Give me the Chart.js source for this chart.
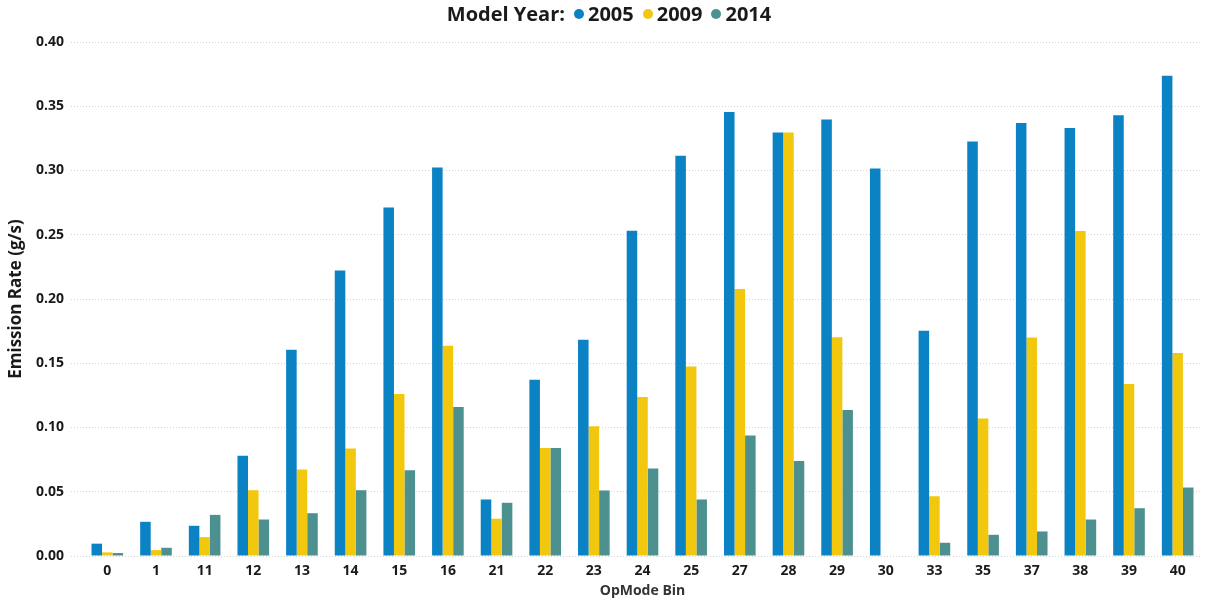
<!DOCTYPE html>
<html>
<head>
<meta charset="utf-8">
<title>Emission Rate by OpMode Bin</title>
<script src="https://cdn.jsdelivr.net/npm/chart.js@4/dist/chart.umd.min.js"></script>
<style>
  html, body { margin: 0; padding: 0; background: #fff; }
  #wrap { position: relative; width: 1206px; height: 600px; }
  #legend {
    position: absolute; top: 0; left: 0; width: 1206px;
    display: flex; justify-content: center; align-items: center;
    font-family: "Open Sans", "Noto Sans", sans-serif; font-weight: bold;
    font-size: 20px; color: #1a1a1a; padding-left: 12px; box-sizing: border-box;
  }
  #legend .item { display: flex; align-items: center; margin-left: 9px; }
  #legend .dot { width: 10px; height: 10px; border-radius: 50%; margin-right: 4px; }
</style>
</head>
<body>
<div id="wrap">
  <canvas id="chart" width="1206" height="600"></canvas>
  <div id="legend"><span>Model Year:</span></div>
</div>
<script>
const opModeBins = ['0', '1', '11', '12', '13', '14', '15', '16', '21', '22', '23', '24',
                    '25', '27', '28', '29', '30', '33', '35', '37', '38', '39', '40'];

const rate2005 = [0.0096, 0.0266, 0.0235, 0.0781, 0.1605, 0.2221, 0.2713, 0.3024, 0.0440, 0.1372, 0.1682, 0.2531,
                  0.3114, 0.3455, 0.3296, 0.3397, 0.3016, 0.1752, 0.3226, 0.3370, 0.3331, 0.3430, 0.3738];
const rate2009 = [0.0028, 0.0046, 0.0147, 0.0512, 0.0673, 0.0836, 0.1260, 0.1636, 0.0290, 0.0841, 0.1009, 0.1237,
                  0.1475, 0.2078, 0.3296, 0.1703, null, 0.0465, 0.1071, 0.1700, 0.2529, 0.1338, 0.1579];
const rate2014 = [0.0023, 0.0064, 0.0320, 0.0284, 0.0333, 0.0512, 0.0667, 0.1160, 0.0414, 0.0841, 0.0510, 0.0680,
                  0.0440, 0.0937, 0.0740, 0.1136, null, 0.0103, 0.0165, 0.0191, 0.0284, 0.0372, 0.0533];

const modelYears = ['2005', '2009', '2014'];
const yearColors = ['#0A82C4', '#F2C80F', '#4C918F'];

const fontFamily = '"Open Sans", "Noto Sans", sans-serif';

// html legend with the "Model Year:" caption inline
const legendEl = document.getElementById('legend');
modelYears.forEach((year, i) => {
    const item = document.createElement('span');
    item.className = 'item';
    item.innerHTML = `<span class="dot" style="background:${yearColors[i]}"></span>${year}`;
    legendEl.appendChild(item);
});

const ctx = document.getElementById('chart').getContext('2d');
new Chart(ctx, {
    type: 'bar',
    data: {
        labels: opModeBins,
        datasets: [rate2005, rate2009, rate2014].map((values, i) => ({
            label: modelYears[i],
            data: values,
            backgroundColor: yearColors[i],
            borderWidth: 0,
            categoryPercentage: 0.65,
            barPercentage: 1.0
        }))
    },
    options: {
        responsive: false,
        animation: false,
        layout: { padding: { top: 42, right: 4, left: 0, bottom: 0 } },
        plugins: {
            legend: { display: false },
            tooltip: { enabled: false }
        },
        scales: {
            x: {
                grid: { display: false, drawTicks: false },
                border: { display: false },
                ticks: {
                    padding: 7,
                    color: '#1a1a1a',
                    font: { family: fontFamily, size: 14, weight: 'bold' }
                },
                title: {
                    display: true,
                    text: 'OpMode Bin',
                    color: '#333',
                    padding: { top: 0, bottom: 1 },
                    font: { family: fontFamily, size: 14, weight: 'bold' }
                },
                afterFit: scale => { scale.height = 44; }
            },
            y: {
                min: 0,
                max: 0.4,
                grid: {
                    color: '#d4d4d4',
                    borderDash: [1, 2],
                    tickLength: 12,
                    tickColor: '#d4d4d4',
                    tickBorderDash: [1, 2]
                },
                border: { display: false, dash: [1, 2] },
                ticks: {
                    stepSize: 0.05,
                    padding: 7,
                    color: '#1a1a1a',
                    font: { family: fontFamily, size: 14, weight: 'bold' },
                    callback: v => v.toFixed(2)
                },
                title: {
                    display: true,
                    text: 'Emission Rate (g/s)',
                    color: '#1a1a1a',
                    padding: { top: 6, bottom: 0 },
                    font: { family: fontFamily, size: 17, weight: 'bold' }
                },
                afterFit: scale => { scale.width = 83; }
            }
        }
    }
});
</script>
</body>
</html>
